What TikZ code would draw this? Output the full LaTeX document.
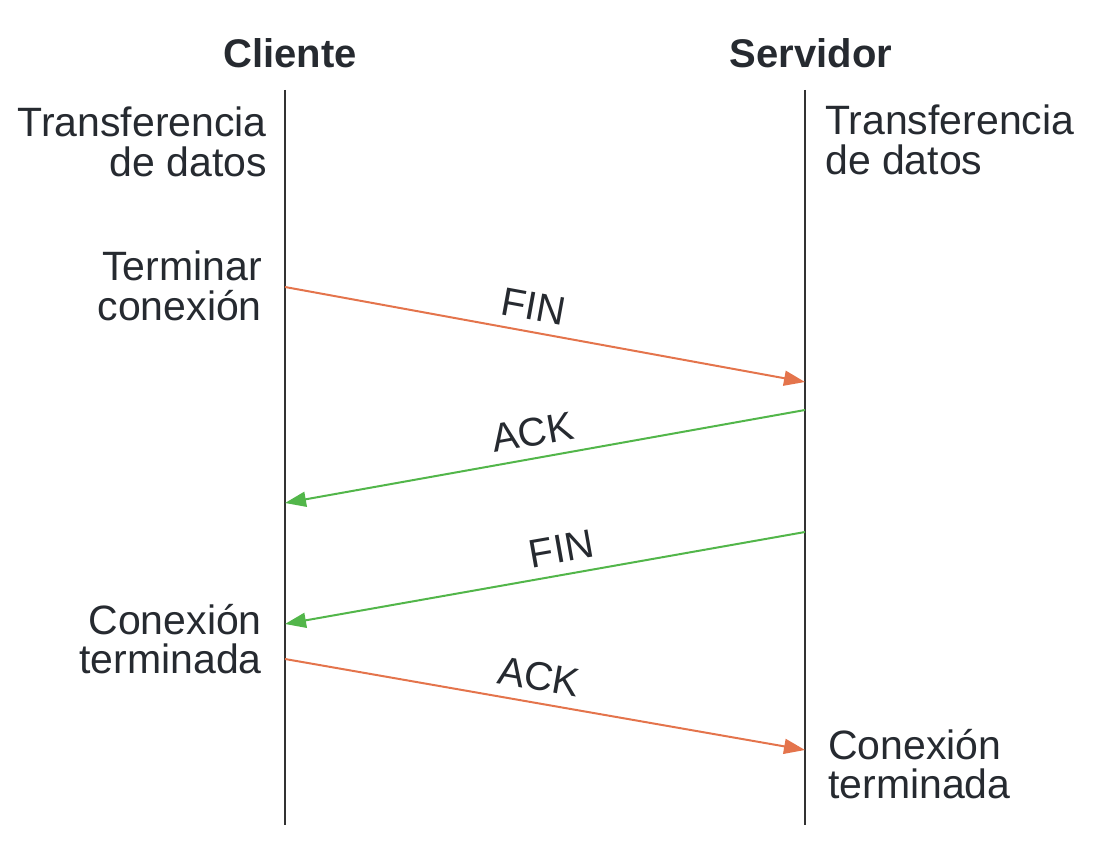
\documentclass[tikz,border=0pt]{standalone}
\usepackage{fontspec}
\setmainfont{Liberation Sans}
\usetikzlibrary{arrows.meta}
\definecolor{txt}{HTML}{262A30}
\definecolor{lifel}{HTML}{333333}
\definecolor{orng}{HTML}{E4744C}
\definecolor{grn}{HTML}{52B64A}
\tikzset{
  lab/.style={inner sep=0pt, text=txt, font=\fontsize{41}{39.5}\selectfont},
  head/.style={lab, font=\fontsize{40}{39}\selectfont\bfseries},
  life/.style={draw=lifel, line width=2.6pt},
  msg/.style={line width=2pt, -{Triangle[length=21pt,width=15pt]}},
  tag/.style={sloped, above=9pt, inner sep=2pt, text=txt, font=\fontsize{40}{39}\selectfont}
}
\begin{document}
\begin{tikzpicture}[x=1pt,y=-1pt]
\useasboundingbox (0,0) rectangle (1096,853);
\node[head, anchor=north] (cli) at (290,38) {Cliente};
\node[head, anchor=north] (srv) at (811,38) {Servidor};
\coordinate (ct) at (285,90);
\coordinate (cb) at (285,825);
\coordinate (st) at (805,90);
\coordinate (sb) at (805,825);
\draw[life] (ct) -- (cb);
\draw[life] (st) -- (sb);
\node[lab, align=right, anchor=north east] (ltd) at (267,107) {Transferencia\\de datos};
\node[lab, align=left, anchor=north west] (rtd) at (825,105) {Transferencia\\de datos};
\node[lab, align=right, anchor=north east] (term) at (262,251) {Terminar\\conexión};
\node[lab, align=right, anchor=north east] (lct) at (262,604) {Conexión\\terminada};
\node[lab, align=left, anchor=north west] (rct) at (828,729) {Conexión\\terminada};
\coordinate (a1s) at (285,287);
\coordinate (a1e) at (805,382);
\coordinate (a2s) at (805,410);
\coordinate (a2e) at (285,503);
\coordinate (a3s) at (805,532);
\coordinate (a3e) at (285,624);
\coordinate (a4s) at (285,659);
\coordinate (a4e) at (805,750);
\draw[msg, draw=orng, fill=orng] (a1s) -- node[tag, pos=0.47] (f1) {FIN} (a1e);
\draw[msg, draw=grn, fill=grn] (a2s) -- node[tag, pos=0.515] (k1) {ACK} (a2e);
\draw[msg, draw=grn, fill=grn] (a3s) -- node[tag, pos=0.46] (f2) {FIN} (a3e);
\draw[msg, draw=orng, fill=orng] (a4s) -- node[tag, pos=0.48] (k2) {ACK} (a4e);
\end{tikzpicture}
\end{document}
